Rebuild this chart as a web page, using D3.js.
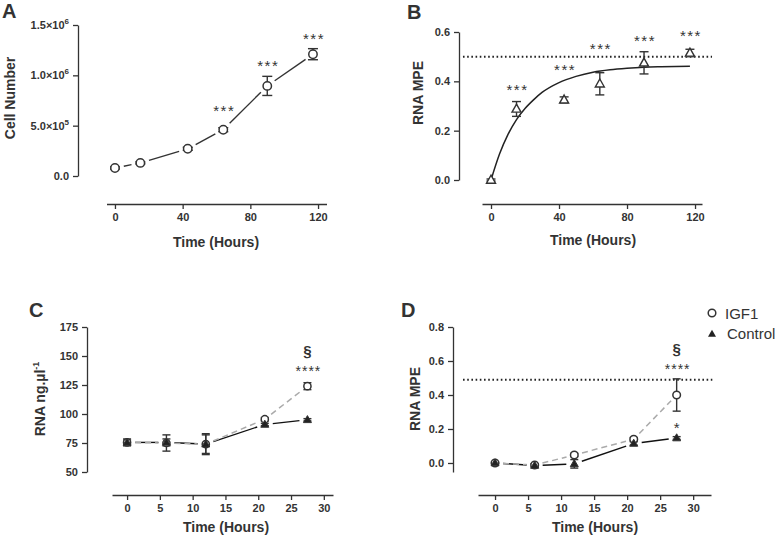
<!DOCTYPE html>
<html><head><meta charset="utf-8">
<script src="https://cdn.jsdelivr.net/npm/d3@7"></script>
<style>
body{margin:0;background:#fff;}
text{font-family:"Liberation Sans",Arial,sans-serif;fill:#333;}
</style></head>
<body><svg id="c" width="777" height="540"></svg>
<script>
// ---------- DATA ----------
// Panel A: cell number
const timeA = [0, 15, 43, 64, 90, 117];
const cellNumber = [80000, 130000, 270000, 460000, 895000, 1210000];
const cellErr = [10000, 10000, 15000, 20000, 95000, 55000];
const starsA = ["", "", "", "***", "***", "***"];
const starLevelA = [0, 0, 0, 675000, 1122000, 1390000];
const yTicksA = [0, 500000, 1000000, 1500000];
const yTickLabelsA = [["0.0", ""], ["5.0×10", "5"], ["1.0×10", "6"], ["1.5×10", "6"]];
const xTicksAB = [0, 40, 80, 120];

// Panel B: RNA MPE time course
const timeB = [0, 15, 43, 64, 90, 117];
const mpeB = [0, 0.288, 0.325, 0.39, 0.475, 0.515];
const mpeBErr = [0.004, 0.03, 0.012, 0.045, 0.045, 0.015];
const starsB = ["", "***", "***", "***", "***", "***"];
const starLevelB = [0, 0.377, 0.458, 0.543, 0.576, 0.596];
const fitTimeB = [0, 5, 10, 15, 20, 25, 30, 40, 50, 60, 70, 80, 90, 100, 117];
const fitMpeB = [0, 0.105, 0.185, 0.245, 0.29, 0.325, 0.355, 0.395, 0.42, 0.437, 0.447, 0.453, 0.457, 0.459, 0.461];
const plateauB = 0.5;
const yTicksB = [0, 0.2, 0.4, 0.6];

// Panels C & D
const timeCD = [0, 6, 12, 21, 27.5];
const rnaIGF1 = [75.5, 75, 74, 95.5, 124];
const rnaIGF1Err = [3, 7, 9, 1.5, 3];
const rnaControl = [75.5, 75.5, 74, 91, 95];
const rnaControlErr = [2, 3, 8, 1, 1];
const yTicksC = [50, 75, 100, 125, 150, 175];
const mpeIGF1 = [0, -0.012, 0.047, 0.14, 0.40];
const mpeIGF1Err = [0.004, 0.008, 0.01, 0.01, 0.095];
const mpeControl = [0, -0.015, -0.005, 0.115, 0.147];
const mpeControlErr = [0.004, 0.01, 0.025, 0.01, 0.008];
const plateauD = 0.49;
const yTicksD = [0, 0.2, 0.4, 0.6, 0.8];
const xTicksCD = [0, 5, 10, 15, 20, 25, 30];
const seriesNames = ["IGF1", "Control"];

// ---------- DRAW ----------
const svg = d3.select("#c");
const INK = "#333";

function styleAxis(g) {
  g.selectAll("path,line").attr("stroke", INK).attr("stroke-width", 1.3);
  g.selectAll("text").attr("font-size", 11).attr("font-weight", "bold").attr("fill", INK);
}
function drawAxes(x, y, xAxisY, yAxisX, xTicks, yTicks, yFmt) {
  const gx = svg.append("g").attr("transform", `translate(0,${xAxisY})`)
    .call(d3.axisBottom(x).tickValues(xTicks).tickSize(5).tickSizeOuter(0).tickPadding(4).tickFormat(d3.format("d")));
  styleAxis(gx);
  const gy = svg.append("g").attr("transform", `translate(${yAxisX},0)`)
    .call(d3.axisLeft(y).tickValues(yTicks).tickSize(5).tickSizeOuter(0).tickPadding(4).tickFormat(yFmt));
  styleAxis(gy);
  return gy;
}
function gapLine(x, y, xs, ys, gap, stroke, dash, width) {
  for (let i = 0; i < xs.length - 1; i++) {
    const x0 = x(xs[i]), y0 = y(ys[i]), x1 = x(xs[i+1]), y1 = y(ys[i+1]);
    const dx = x1 - x0, dy = y1 - y0, L = Math.hypot(dx, dy);
    if (L <= 2 * gap) continue;
    const ux = dx / L, uy = dy / L;
    svg.append("line")
      .attr("x1", x0 + ux * gap).attr("y1", y0 + uy * gap)
      .attr("x2", x1 - ux * gap).attr("y2", y1 - uy * gap)
      .attr("stroke", stroke).attr("stroke-width", width || 1.4)
      .attr("stroke-dasharray", dash || null);
  }
}
function errBars(x, y, xs, ys, es, cap) {
  xs.forEach((t, i) => {
    const cx = x(t), top = y(ys[i] + es[i]), bot = y(ys[i] - es[i]);
    const g = svg.append("g").attr("stroke", INK).attr("stroke-width", 1.4);
    g.append("line").attr("x1", cx).attr("x2", cx).attr("y1", top).attr("y2", bot);
    g.append("line").attr("x1", cx - cap).attr("x2", cx + cap).attr("y1", top).attr("y2", top);
    g.append("line").attr("x1", cx - cap).attr("x2", cx + cap).attr("y1", bot).attr("y2", bot);
  });
}
function circles(x, y, xs, ys, r) {
  xs.forEach((t, i) => svg.append("circle").attr("cx", x(t)).attr("cy", y(ys[i])).attr("r", r)
    .attr("fill", "#fff").attr("stroke", INK).attr("stroke-width", 1.5));
}
function triPath(cx, cy, w, h) {
  return `M${cx},${cy - h*0.6}L${cx + w/2},${cy + h*0.4}L${cx - w/2},${cy + h*0.4}Z`;
}
function triangles(x, y, xs, ys, w, h, filled) {
  xs.forEach((t, i) => svg.append("path").attr("d", triPath(x(t), y(ys[i]), w, h))
    .attr("fill", filled ? "#222" : "#fff").attr("stroke", INK).attr("stroke-width", filled ? 1 : 1.4));
}
// stars centred vertically on the given data level
function stars(x, y, xs, levels, labels) {
  xs.forEach((t, i) => {
    if (!labels[i]) return;
    svg.append("text").attr("x", x(t) + 1).attr("y", y(levels[i]) + 8)
      .attr("text-anchor", "middle").attr("font-size", 15).attr("letter-spacing", 1.5)
      .text(labels[i]);
  });
}
function title(txt, x, y, rot, size) {
  const t = svg.append("text").attr("font-weight", "bold").attr("font-size", size || 14)
    .attr("text-anchor", "middle");
  if (rot) t.attr("transform", `translate(${x},${y}) rotate(-90)`); else t.attr("x", x).attr("y", y);
  t.text(txt);
  return t;
}
function panelLabel(txt, x, y) {
  svg.append("text").attr("x", x).attr("y", y).attr("font-size", 20).attr("font-weight", "bold").text(txt);
}
function sigMarks(x, t, sectY, starY) {
  svg.append("text").attr("x", x(t) + 1).attr("y", starY).attr("text-anchor", "middle")
    .attr("font-size", 14).attr("letter-spacing", 1).text("****");
  svg.append("text").attr("x", x(t)).attr("y", sectY).attr("text-anchor", "middle")
    .attr("font-size", 15).attr("font-weight", "bold").text("§");
}

// ---- Panel A ----
{
  const x = d3.scaleLinear().domain([-5, 125]).range([106.5, 326.5]);
  const y = d3.scaleLinear().domain([0, 1500000]).range([176, 25]);
  const gy = drawAxes(x, y, 204, 78, xTicksAB, yTicksA, () => "");
  gy.selectAll(".tick").each(function(d, i) {
    const lab = yTickLabelsA[i];
    const t = d3.select(this).append("text").attr("x", -9).attr("dy", "0.32em")
      .attr("text-anchor", "end").attr("font-size", 11).attr("font-weight", "bold").attr("fill", INK);
    t.append("tspan").text(lab[0]);
    if (lab[1]) t.append("tspan").attr("dy", -5).attr("font-size", 8).text(lab[1]);
  });
  gapLine(x, y, timeA, cellNumber, 9, INK);
  errBars(x, y, timeA, cellNumber, cellErr, 5);
  circles(x, y, timeA, cellNumber, 4.2);
  stars(x, y, timeA, starLevelA, starsA);
  title("Cell Number", 15, 98, true, 14);
  title("Time (Hours)", 216, 247, false, 14);
  panelLabel("A", 2, 18);
}

// ---- Panel B ----
{
  const x = d3.scaleLinear().domain([-5.3, 124.1]).range([482, 702]);
  const y = d3.scaleLinear().domain([0, 0.6]).range([180, 32]);
  drawAxes(x, y, 204, 459, xTicksAB, yTicksB, d3.format(".1f"));
  svg.append("line").attr("x1", x(-16.5)).attr("x2", x(130)).attr("y1", y(plateauB)).attr("y2", y(plateauB))
    .attr("stroke", "#222").attr("stroke-width", 2).attr("stroke-dasharray", "1.6,2.6");
  svg.append("path").datum(fitTimeB.map((t, i) => [t, fitMpeB[i]]))
    .attr("d", d3.line().x(d => x(d[0])).y(d => y(d[1])).curve(d3.curveMonotoneX))
    .attr("fill", "none").attr("stroke", "#222").attr("stroke-width", 1.5);
  errBars(x, y, timeB, mpeB, mpeBErr, 4.5);
  triangles(x, y, timeB, mpeB, 9, 8, false);
  stars(x, y, timeB, starLevelB, starsB);
  title("RNA MPE", 423, 93, true, 14);
  title("Time (Hours)", 593, 245, false, 14);
  panelLabel("B", 407, 19);
}

// ---- Panel C ----
{
  const x = d3.scaleLinear().domain([-2.3, 31.4]).range([112, 333]);
  const y = d3.scaleLinear().domain([50, 175]).range([472, 327]);
  drawAxes(x, y, 495, 87, xTicksCD, yTicksC, d3.format("d"));
  gapLine(x, y, timeCD, rnaControl, 8, "#111");
  gapLine(x, y, timeCD, rnaIGF1, 8, "#aaa", "6,4", 1.5);
  errBars(x, y, timeCD, rnaControl, rnaControlErr, 4);
  errBars(x, y, timeCD, rnaIGF1, rnaIGF1Err, 4);
  circles(x, y, timeCD, rnaIGF1, 3.6);
  triangles(x, y, timeCD, rnaControl, 8, 7, true);
  sigMarks(x, timeCD[timeCD.length - 1], 356, 376);
  const tC = title("", 45, 399, true, 14);
  tC.append("tspan").text("RNA ng.µl");
  tC.append("tspan").attr("dy", -6).attr("font-size", 9).text("-1");
  title("Time (Hours)", 226, 532, false, 14);
  panelLabel("C", 29, 317);
}

// ---- Panel D ----
{
  const x = d3.scaleLinear().domain([-2.58, 32.7]).range([478, 711]);
  const y = d3.scaleLinear().domain([-0.053, 0.8]).range([472, 327]);
  drawAxes(x, y, 495, 453, xTicksCD, yTicksD, d3.format(".1f"));
  svg.append("line").attr("x1", x(-4.85)).attr("x2", x(32.9)).attr("y1", y(plateauD)).attr("y2", y(plateauD))
    .attr("stroke", "#222").attr("stroke-width", 2).attr("stroke-dasharray", "1.6,2.6");
  gapLine(x, y, timeCD, mpeControl, 8, "#111");
  gapLine(x, y, timeCD, mpeIGF1, 8, "#aaa", "6,4", 1.5);
  errBars(x, y, timeCD, mpeControl, mpeControlErr, 4);
  errBars(x, y, timeCD, mpeIGF1, mpeIGF1Err, 4);
  circles(x, y, timeCD, mpeIGF1, 3.8);
  triangles(x, y, timeCD, mpeControl, 8, 7, true);
  const last = timeCD.length - 1;
  sigMarks(x, timeCD[last], 354, 374);
  svg.append("text").attr("x", x(timeCD[last])).attr("y", 433).attr("text-anchor", "middle")
    .attr("font-size", 15).text("*");
  title("RNA MPE", 420, 399, true, 14);
  title("Time (Hours)", 595, 532, false, 14);
  panelLabel("D", 401, 317);

  // legend
  svg.append("circle").attr("cx", 712).attr("cy", 313).attr("r", 3.8)
    .attr("fill", "#fff").attr("stroke", INK).attr("stroke-width", 1.5);
  svg.append("path").attr("d", triPath(712, 334, 8, 7)).attr("fill", "#222");
  svg.append("text").attr("x", 725).attr("y", 319).attr("font-size", 15).text(seriesNames[0]);
  svg.append("text").attr("x", 727).attr("y", 339).attr("font-size", 15).text(seriesNames[1]);
}
</script></body></html>
